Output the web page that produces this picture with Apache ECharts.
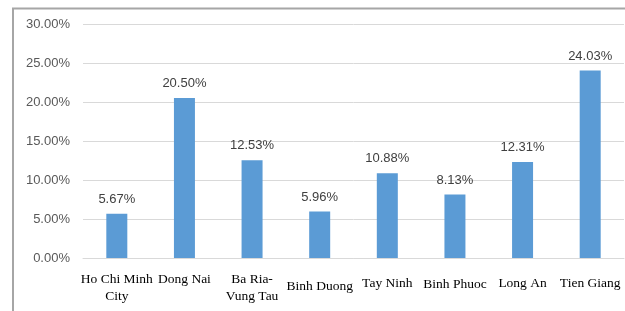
<!DOCTYPE html>
<html>
<head>
<meta charset="utf-8">
<script src="https://cdn.jsdelivr.net/npm/echarts@6/dist/echarts.min.js"></script>
<style>
    html, body { margin: 0; padding: 0; background: #fff; }
    #chart { width: 625px; height: 311px; }
</style>
</head>
<body>
<div id="chart"></div>
<script>
var provinces = ['Ho Chi Minh\nCity', 'Dong Nai', 'Ba Ria-\nVung Tau', 'Binh Duong', 'Tay Ninh', 'Binh Phuoc', 'Long An', 'Tien Giang'];
var shares = [5.67, 20.50, 12.53, 5.96, 10.88, 8.13, 12.31, 24.03];
var yTicks = [0, 5, 10, 15, 20, 25, 30];

// small vertical nudges so the category labels sit like the original
var labelPadTop = [0, 0, 0, 7, 4, 5, 4, 4];

function drawChart() {
    let myChart = echarts.init(document.getElementById('chart'));

    let categoryData = provinces.map(function (name, i) {
        return {
            value: name,
            textStyle: { padding: [labelPadTop[i], 0, 0, 0] }
        };
    });

    let option = {
        animation: false,
        graphic: [
            {
                type: 'polyline',
                shape: { points: [[13, 311], [13, 8.5], [625, 8.5]] },
                style: { stroke: '#a6a6a6', lineWidth: 2, fill: null }
            }
        ],
        grid: {
            left: 83,
            right: 1,
            top: 24,
            bottom: 53
        },
        xAxis: {
            type: 'category',
            data: categoryData,
            axisLine: { lineStyle: { color: '#d9d9d9' } },
            axisTick: { show: false },
            axisLabel: {
                interval: 0,
                margin: 13,
                color: '#000',
                fontFamily: 'Liberation Serif',
                fontSize: 13.5,
                lineHeight: 17
            }
        },
        yAxis: {
            type: 'value',
            min: yTicks[0],
            max: yTicks[yTicks.length - 1],
            interval: 5,
            axisLine: { show: false },
            axisTick: { show: false },
            splitLine: { lineStyle: { color: '#d9d9d9' } },
            axisLabel: {
                margin: 13,
                color: '#595959',
                fontFamily: 'Liberation Sans',
                fontSize: 13,
                formatter: function (v) { return v.toFixed(2) + '%'; }
            }
        },
        series: [
            {
                type: 'bar',
                data: shares,
                barWidth: 21,
                itemStyle: { color: '#5b9bd5' },
                label: {
                    show: true,
                    position: 'top',
                    distance: 8,
                    color: '#404040',
                    fontFamily: 'Liberation Sans',
                    fontSize: 13,
                    formatter: function (p) { return p.value.toFixed(2) + '%'; }
                }
            }
        ]
    };

    myChart.setOption(option);
}

drawChart();
</script>
</body>
</html>
